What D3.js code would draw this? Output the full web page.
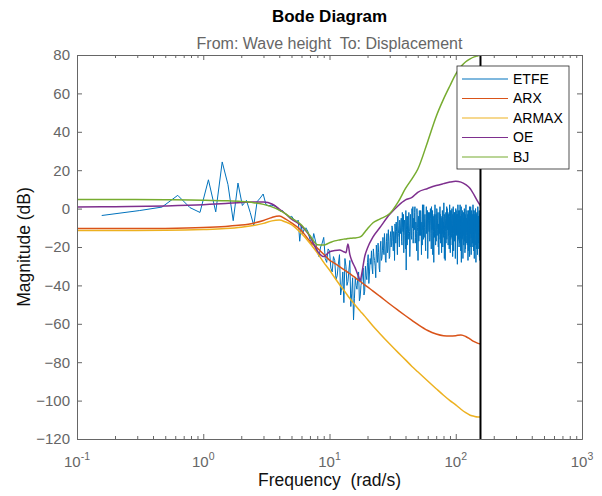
<!DOCTYPE html>
<html>
<head>
<meta charset="utf-8">
<script src="https://cdn.jsdelivr.net/npm/d3@7"></script>
<style>
  body { margin: 0; background: #fff; }
</style>
</head>
<body>
<div id="chart"></div>
<script>
const WIDTH = 602
const HEIGHT = 496
const LEFT = 77
const RIGHT = 582
const TOP = 55
const BOTTOM = 439
const FONT = '"Liberation Sans", Arial, Helvetica, sans-serif'
const AXIS_COLOR = '#666'

// ---- valeurs ----
const seriesNames = ['ETFE', 'ARX', 'ARMAX', 'OE', 'BJ']
const seriesColors = ['#0072bd', '#d95319', '#edb120', '#7e2f8e', '#77ac30']
const yTicks = [80, 60, 40, 20, 0, -20, -40, -60, -80, -100, -120]
const xTickExp = [-1, 0, 1, 2, 3]
const nyquist = 157

// modeles parametriques (rad/s -> dB)
const modelFreq = [0.1, 0.2, 0.5, 1, 1.5, 2, 2.5, 3, 3.5, 4,
  4.5, 5, 6, 7, 8, 9, 10, 11, 12, 13,
  13.5, 14, 14.5, 15, 16, 17, 17.5, 18, 19, 20,
  22, 25, 30, 35, 40, 45, 50, 60, 70, 80,
  90, 100, 110, 120, 130, 140, 150, 157]
const arxMag = [-10.4, -10.4, -10.3, -9.9, -9.3, -8.6, -7.6, -6.2, -4.6, -3.9,
  -5.5, -7.4, -11.5, -17, -20.5, -23.8, -26.8, -28.5, -30.2, -31.8,
  -32.5, -33.2, -33.9, -34.6, -36, -37.3, -37.9, -38.5, -39.7, -40.8,
  -42.8, -45.6, -49.7, -53, -55.8, -58.2, -60.3, -63.5, -65.3, -66.2,
  -66.4, -66.2, -65.8, -66.6, -68, -69.3, -70.2, -70.5]
const armaxMag = [-11.4, -11.4, -11.3, -10.9, -10.4, -9.7, -8.8, -7.7, -6.4, -6,
  -7, -8.3, -13, -18, -23, -28, -32, -36, -39.5, -42.5,
  -44, -45.5, -46.8, -48, -50.3, -52.4, -53.4, -54.3, -56, -57.8,
  -61, -65, -70.5, -75, -78.8, -82.2, -85, -89.8, -93.8, -97.2,
  -100, -102.2, -104.5, -106.3, -107.6, -108.2, -108.5, -108.5]
const oeMag = [0.8, 1.0, 1.4, 2.0, 2.6, 3.2, 3.5, 3.4, 2.4, -0.2,
  -2.8, -5.5, -9, -14.5, -22, -25, -22.5, -21.8, -21.5, -22.5,
  -23, -18.5, -24, -27, -31, -35.5, -37.5, -34, -25, -20.5,
  -15, -10, -3, 1.5, 4.5, 5.8, 8.5, 10.5, 12, 13,
  13.8, 14.2, 13.8, 12.5, 10.5, 7, 3.5, 1.5]
const bjMag = [4.7, 4.7, 4.6, 4.4, 4.1, 3.7, 3.1, 2.2, 0.9, -0.8,
  -2.8, -5, -8.5, -14, -18.8, -19, -17.8, -16.8, -16.3, -15.9,
  -15.8, -15.6, -15.5, -15.4, -15.3, -15, -14.7, -14.2, -12.3, -10.5,
  -7.5, -5.5, -2.6, 3.5, 10.5, 15.5, 20.5, 35, 48, 57,
  64, 70, 74, 76.5, 78, 79, 79.6, 80]

// ETFE : basses frequences, pas de 0.157 rad/s (k = 1..40)
const etfeLowStep = 0.157
const etfeLow = [-3.6, -1, 0.8, 6.9, 0.5, -2, 15, -1.7, 24.3, 12.5,
  -6.3, 13.3, 1.6, 4.3, -2, -8.8, 3.6, 5.5, 7.6, 2,
  1.5, 1.8, 1.5, 1.2, -0.5, -1.4, -1, -2.5, -3, -4,
  -4.5, -4, -5.5, -6, -7, -6, -17, -9, -13, -11]
// ETFE : de 6.5 a 157 rad/s, pas de 0.5 rad/s
const etfeHighStart = 6.5
const etfeHighStep = 0.5
const etfeHigh = [
  -10, -16, -13, -22, -20, -15, -28, -22, -33, -27,
  -35, -24, -41, -49, -30, -38, -27, -44, -58, -36,
  -42, -33, -46, -38, -31, -43, -35, -28, -39, -26,
  -22, -34, -25, -30, -19, -28, -23, -33, -17, -26,
  -15, -24, -19, -28, -13, -21, -17, -25, -12, -19,
  -10, -22, -14, -8, -18, -12, -24, -9, -15, -6,
  -13, -5, -19, -10, -3, -14, -8, -21, -32, -4,
  -9, -16, -2, -12, -20, -7, -14, 0, -10, -18,
  -5, -11, 1, -15, -8, -22, -3, -12, -6, -17,
  -1, -9, -14, -4, -24, -7, 2, -11, -16, -6,
  -10, -3, -19, -7, 1, -13, -5, -26, -9, -2,
  -12, -6, -15, 0, -8, -21, -4, -11, -1, -14,
  -7, -28, -3, -10, 2, -13, -6, -17, -9, -1,
  -11, -5, -15, -8, -24, -2, -12, 1, -9, -18,
  -4, -10, -6, -13, -1, -20, -7, -11, 3, -9,
  -14, -5, -27, -8, -2, -12, -6, -16, 0, -10,
  -7, -19, -3, -11, -5, -14, 2, -9, -23, -6,
  -12, -1, -8, -15, -4, -10, -25, -6, 1, -13,
  -5, -9, -17, -2, -11, -7, -20, 0, -8, -14,
  -3, -12, -6, -29, -9, 2, -13, -5, -16, -7,
  -10, -1, -18, -6, -12, -4, -22, -8, 1, -14,
  -6, -11, -3, -15, -7, -26, -2, -10, -5, -13,
  -8, 0, -17, -4, -11, -6, -21, -9, 2, -12,
  -5, -14, -7, -1, -19, -10, -3, -27, -8, -12,
  -2, -9, -16, -6, 1, -11, -4, -20, -7, -13,
  -10, -3, -24, -8, -1, -14, -6, -11, -18, -5,
  -9, 2, -12, -7, -22, -4, -15, -1, -10, -6,
  -13, -5, -19, -8, 0, -11, -28, -6, -3, -14,
  -7, -10, -2, -17, -5, -12, 1, -9, -21, -6,
  -11, -4, -15, -8, -1, -25, -7, -13, -3, -10,
  -6, -9]
// ETFE : points intercales, de 6.75 a 156.75 rad/s
const etfeMidStart = 6.75
const etfeMid = [
  -12, -19, -17, -25, -18, -26, -21, -31, -25, -37,
  -29, -45, -33, -26, -40, -32, -51, -36, -47, -40,
  -36, -48, -40, -34, -45, -30, -37, -24, -33, -29,
  -31, -21, -27, -36, -24, -18, -31, -20, -27, -22,
  -21, -13, -27, -17, -23, -11, -26, -15, -20, -9,
  -17, -12, -27, -11, -7, -16, -4, -13, -20, -10,
  -8, -17, -2, -12, -23, -6, -15, -1, -11, -19,
  -4, -13, -8, -25, -3, -10, -16, -6, 1, -12,
  -9, -2, -18, -7, -13, 0, -10, -27, -4, -11,
  -14, -6, -1, -12, -8, -19, -3, -9, 2, -15,
  -5, -11, -22, -4, -13, -8, -1, -16, -6, -10,
  -2, -17, -9, -5, -13, 1, -11, -7, -24, -4,
  -12, -8, -15, -5, -11, -19, -3, -9, 0, -14,
  -6, -2, -20, -10, -4, -13, -7, -16, -3, -11,
  -9, -23, -5, -1, -12, -7, -15, -4, -10, -26,
  -3, -8, -12, -5, -18, -9, 1, -13, -6, -11,
  -2, -10, -14, -7, -21, -4, -11, -8, -1, -16,
  -8, -5, -13, 0, -19, -9, -3, -12, -7, -22,
  -10, -2, -6, -15, -4, -26, -9, -12, -1, -7,
  -13, -5, -10, -3, -17, -8, -1, -14, -6, -20,
  -4, -12, -7, 2, -15, -9, -5, -11, -28, -3,
  -9, -16, -1, -8, -12, -4, -14, -7, -19, -2,
  -13, -6, -10, -23, -3, -8, -15, 0, -11, -5,
  -9, -18, -2, -12, -6, -14, -4, -9, -22, -1,
  -11, -5, -13, -8, -25, -3, -10, -16, -6, 1,
  -12, -7, -2, -15, -9, -4, -20, -8, -13, -3,
  -6, -14, -10, -1, -17, -8, -5, -26, -11, -3,
  -9, -16, -4, -12, -7, -2, -14, -10, -21, -5,
  -13, -3, -8, -11, -24, -6, -1, -15, -9, -4,
  -7, -18, -10, -2, -13, -6, -12, -27, -5, -9,
  -11]

// ---- mise en forme des series ----
const etfe = etfeLow.map((m, i) => ({ w: (i + 1) * etfeLowStep, m }))
  .concat(etfeHigh.map((m, i) => ({ w: etfeHighStart + i * etfeHighStep, m })))
  .concat(etfeMid.map((m, i) => ({ w: etfeMidStart + i * etfeHighStep, m })))
  .sort((a, b) => a.w - b.w)
const models = [arxMag, armaxMag, oeMag, bjMag]
  .map(mags => mags.map((m, i) => ({ w: modelFreq[i], m })))
const allSeries = [etfe].concat(models)

const svg = d3.select('#chart').append('svg')
  .attr('width', WIDTH).attr('height', HEIGHT)
  .style('font-family', FONT)

svg.append('rect').attr('width', WIDTH).attr('height', HEIGHT).attr('fill', '#fff')

const x = d3.scaleLog().domain([0.1, 1000]).range([LEFT, RIGHT])
const y = d3.scaleLinear().domain([-120, 80]).range([BOTTOM, TOP])

svg.append('defs').append('clipPath').attr('id', 'plot-clip')
  .append('rect').attr('x', LEFT).attr('y', TOP)
  .attr('width', RIGHT - LEFT).attr('height', BOTTOM - TOP)

// courbes
const line = d3.line().x(d => x(d.w)).y(d => y(d.m))
const curves = svg.append('g').attr('clip-path', 'url(#plot-clip)')
curves.selectAll('path')
  .data(allSeries)
  .enter()
  .append('path')
  .attr('d', (d, i) => i === 0 ? line.curve(d3.curveLinear)(d) : line.curve(d3.curveMonotoneX)(d))
  .attr('fill', 'none')
  .attr('stroke', (d, i) => seriesColors[i])
  .attr('stroke-width', (d, i) => i === 0 ? 1 : 1.5)
  .attr('stroke-linejoin', 'round')

// ligne de Nyquist
svg.append('line')
  .attr('x1', x(nyquist)).attr('x2', x(nyquist))
  .attr('y1', TOP).attr('y2', BOTTOM)
  .attr('stroke', '#000').attr('stroke-width', 2)

// axes (ticks vers l'interieur)
const majorX = xTickExp.map(e => Math.pow(10, e))
const minorX = []
xTickExp.slice(0, -1).forEach(e => {
  for (let m = 2; m <= 9; m++) minorX.push(m * Math.pow(10, e))
})

function styleAxis(g) {
  g.select('.domain').attr('stroke', AXIS_COLOR)
  g.selectAll('.tick line').attr('stroke', AXIS_COLOR)
  g.selectAll('.tick text').attr('fill', AXIS_COLOR).attr('font-size', 15).attr('font-family', FONT)
}

svg.append('g').attr('transform', `translate(0,${BOTTOM})`)
  .call(d3.axisBottom(x).tickValues(majorX).tickSizeInner(-5).tickSizeOuter(0).tickFormat(''))
  .call(styleAxis)
svg.append('g').attr('transform', `translate(0,${BOTTOM})`)
  .call(d3.axisBottom(x).tickValues(minorX).tickSizeInner(-3).tickSizeOuter(0).tickFormat(''))
  .call(styleAxis)
svg.append('g').attr('transform', `translate(0,${TOP})`)
  .call(d3.axisTop(x).tickValues(majorX).tickSizeInner(-5).tickSizeOuter(0).tickFormat(''))
  .call(styleAxis)
svg.append('g').attr('transform', `translate(0,${TOP})`)
  .call(d3.axisTop(x).tickValues(minorX).tickSizeInner(-3).tickSizeOuter(0).tickFormat(''))
  .call(styleAxis)
svg.append('g').attr('transform', `translate(${LEFT},0)`)
  .call(d3.axisLeft(y).tickValues(yTicks).tickSizeInner(-5).tickSizeOuter(0).tickPadding(7))
  .call(styleAxis)
svg.append('g').attr('transform', `translate(${RIGHT},0)`)
  .call(d3.axisRight(y).tickValues(yTicks).tickSizeInner(-5).tickSizeOuter(0).tickFormat(''))
  .call(styleAxis)

// etiquettes 10^n
const xLabels = svg.append('g')
xLabels.selectAll('text')
  .data(xTickExp)
  .enter()
  .append('text')
  .attr('x', e => x(Math.pow(10, e)))
  .attr('y', BOTTOM + 28)
  .attr('text-anchor', 'middle')
  .attr('font-size', 15)
  .attr('fill', AXIS_COLOR)
  .each(function (e) {
    const t = d3.select(this)
    t.append('tspan').text('10')
    t.append('tspan').attr('dy', -7).attr('font-size', 10.5).text(e)
  })

// titres
svg.append('text')
  .attr('x', (LEFT + RIGHT) / 2).attr('y', 22)
  .attr('text-anchor', 'middle')
  .attr('font-size', 17).attr('font-weight', 'bold').attr('fill', '#000')
  .text('Bode Diagram')
svg.append('text')
  .attr('x', (LEFT + RIGHT) / 2).attr('y', 48.5)
  .attr('text-anchor', 'middle')
  .attr('font-size', 16).attr('fill', AXIS_COLOR)
  .style('white-space', 'pre')
  .text('From: Wave height  To: Displacement')
svg.append('text')
  .attr('x', (LEFT + RIGHT) / 2).attr('y', 486)
  .attr('text-anchor', 'middle')
  .attr('font-size', 17.5).attr('fill', '#111')
  .style('white-space', 'pre')
  .text('Frequency  (rad/s)')
svg.append('text')
  .attr('transform', `translate(30,${(TOP + BOTTOM) / 2}) rotate(-90)`)
  .attr('text-anchor', 'middle')
  .attr('font-size', 17.5).attr('fill', '#111')
  .text('Magnitude (dB)')

// legende
const LEG_X = 457, LEG_Y = 66, LEG_W = 112, LEG_H = 103
const legend = svg.append('g')
legend.append('rect')
  .attr('x', LEG_X).attr('y', LEG_Y).attr('width', LEG_W).attr('height', LEG_H)
  .attr('fill', '#fff').attr('stroke', '#262626').attr('stroke-width', 0.8)
const rows = legend.selectAll('g.row')
  .data(seriesNames)
  .enter()
  .append('g')
  .attr('class', 'row')
  .attr('transform', (d, i) => `translate(0,${LEG_Y + 13 + i * 19.5})`)
rows.append('line')
  .attr('x1', LEG_X + 5).attr('x2', LEG_X + 51)
  .attr('stroke', (d, i) => seriesColors[i]).attr('stroke-width', 1.2)
rows.append('text')
  .attr('x', LEG_X + 56).attr('dy', '0.35em')
  .attr('font-size', 14).attr('fill', '#000')
  .text(d => d)
</script>
</body>
</html>
